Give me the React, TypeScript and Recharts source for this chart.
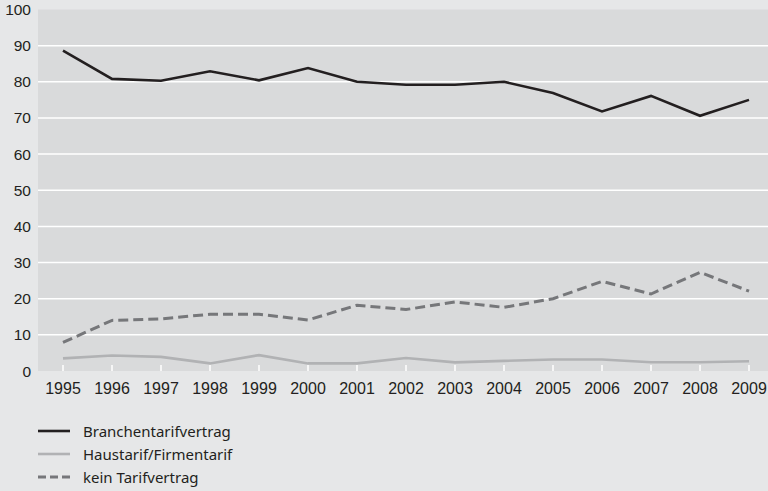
import { LineChart, Line, XAxis, YAxis, CartesianGrid, ReferenceLine } from 'recharts'

const YEARS = ['1995', '1996', '1997', '1998', '1999', '2000', '2001', '2002', '2003', '2004', '2005', '2006', '2007', '2008', '2009']
const BRANCHE = [88.6, 80.8, 80.3, 82.9, 80.4, 83.8, 80.0, 79.2, 79.2, 80.0, 76.9, 71.8, 76.1, 70.6, 75.0]
const HAUS = [3.5, 4.3, 3.9, 2.1, 4.4, 2.1, 2.1, 3.6, 2.4, 2.8, 3.2, 3.2, 2.4, 2.4, 2.7]
const KEIN = [7.9, 14.0, 14.4, 15.7, 15.7, 14.1, 18.2, 17.0, 19.1, 17.6, 20.0, 24.8, 21.3, 27.3, 22.1]
const Y_TICKS = [0, 10, 20, 30, 40, 50, 60, 70, 80, 90, 100]
const GRID_LINES = [10, 20, 30, 40, 50, 60, 70, 80, 90]

const SERIES = [
  { key: 'branche', label: 'Branchentarifvertrag', color: '#231f20', width: 2.6, dash: undefined as string | undefined },
  { key: 'haus', label: 'Haustarif/Firmentarif', color: '#b1b2b4', width: 2.6, dash: undefined as string | undefined },
  { key: 'kein', label: 'kein Tarifvertrag', color: '#76777a', width: 3, dash: '10 5' },
]

const data = YEARS.map((year, i) => ({ year, branche: BRANCHE[i], haus: HAUS[i], kein: KEIN[i] }))

const TEXT = '#231f20'

function YearTick({ x, y, payload }: any) {
  return (
    <g>
      <line x1={x} x2={x} y1={y - 6} y2={y} stroke="#ffffff" strokeWidth={1.5} />
      <text x={x} y={y + 23} textAnchor="middle" fill={TEXT} fontSize={16} fontFamily="'Liberation Sans', Arial, sans-serif">
        {payload.value}
      </text>
    </g>
  )
}

export default function App() {
  return (
    <div style={{ position: 'absolute', left: 0, top: 0, width: 768, height: 491, background: '#e6e7e8', overflow: 'hidden' }}>
      <LineChart width={768} height={400} data={data} margin={{ top: 9.5, right: 0, bottom: 0, left: 0 }}>
        <CartesianGrid horizontal={false} vertical={false} fill="#d9dadb" />
        {GRID_LINES.map(v => (
          <ReferenceLine key={v} y={v} stroke="#ffffff" strokeWidth={1.5} />
        ))}
        <XAxis
          dataKey="year"
          height={29}
          axisLine={false}
          tickLine={false}
          tickSize={0}
          tickMargin={0}
          interval={0}
          padding={{ left: 25, right: 19 }}
          tick={<YearTick />}
        />
        <YAxis
          width={38}
          domain={[0, 100]}
          ticks={Y_TICKS}
          axisLine={false}
          tickLine={false}
          tickSize={0}
          tickMargin={7}
          tick={{ fontSize: 15.5, fill: TEXT, fontFamily: "'Liberation Sans', Arial, sans-serif" }}
        />
        {SERIES.map(s => (
          <Line
            key={s.key}
            dataKey={s.key}
            stroke={s.color}
            strokeWidth={s.width}
            strokeDasharray={s.dash}
            dot={false}
            activeDot={false}
            isAnimationActive={false}
          />
        ))}
      </LineChart>
      <div style={{ position: 'absolute', left: 38, top: 419, fontFamily: "'Noto Sans', sans-serif", fontSize: 15, color: TEXT }}>
        {SERIES.map(s => (
          <div key={s.key} style={{ display: 'flex', alignItems: 'center', height: 23 }}>
            <svg width={32} height={6} style={{ marginRight: 13 }}>
              <line x1={0} x2={32} y1={3} y2={3} stroke={s.color} strokeWidth={s.width} strokeDasharray={s.dash ? '8 4' : undefined} />
            </svg>
            <span>{s.label}</span>
          </div>
        ))}
      </div>
    </div>
  )
}
